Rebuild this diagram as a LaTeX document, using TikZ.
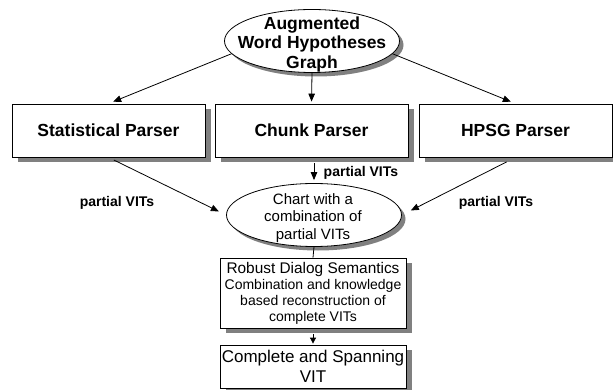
\documentclass[tikz,border=0pt]{standalone}
\usepackage{fontspec}
\setmainfont{Liberation Sans}
\usetikzlibrary{shapes.geometric,arrows.meta}
\definecolor{dropgray}{RGB}{128,128,128}

\begin{document}
\begin{tikzpicture}[x=1pt,y=-1pt,
  line width=0.8pt,
  box/.style={rectangle,draw=black,fill=white,inner sep=0pt,align=center},
  oval/.style={ellipse,draw=black,fill=white,inner sep=0pt,minimum width=175pt,minimum height=63pt},
  parserbox/.style={box,minimum width=193pt,minimum height=53pt,font=\fontsize{17.5}{19.5}\selectfont\bfseries},
  lowbox/.style={box,minimum width=186pt},
  vitlabel/.style={font=\fontsize{14}{16}\selectfont\bfseries},
  arr/.style={-{Triangle[length=8pt,width=6.5pt]}},
  smallarr/.style={-{Triangle[length=6pt,width=6pt]}},
  dropshade/.style={fill=dropgray,draw=none}]

\useasboundingbox (0,0) rectangle (613,390);

% gray drop shadows, drawn first so the shapes sit on top of them
\fill[dropshade] (18,109) rectangle (211,162);
\fill[dropshade] (221,109) rectangle (414,162);
\fill[dropshade] (425,109) rectangle (618,162);
\fill[dropshade] (226,263) rectangle (412,333);
\fill[dropshade] (226,350) rectangle (412,393);
\fill[dropshade] (316,45) ellipse [x radius=87.5, y radius=31.5];
\fill[dropshade] (318,219) ellipse [x radius=87.5, y radius=31.5];

% word hypotheses graph
\node[oval] (top) at (312,41) {};
\node[align=center,font=\fontsize{17.5}{19.5}\selectfont\bfseries] (topText) at (312,44)
  {Augmented\\Word Hypotheses\\Graph};

% the three parsers
\node[parserbox] (stat)  at (108.5,130.5) {Statistical Parser};
\node[parserbox] (chunk) at (311.5,130.5) {Chunk Parser};
\node[parserbox] (hpsg)  at (515.5,130.5) {HPSG Parser};

% chart of partial results
\node[oval] (chart) at (314,215) {};
\node[align=center,font=\fontsize{15}{17.5}\selectfont] (chartText) at (313,218)
  {Chart with a\\combination of\\partial VITs};

% semantics and final result
\node[lowbox,minimum height=70pt,font=\fontsize{14}{16}\selectfont] (robust) at (313,293)
  {{\fontsize{15.4}{16}\selectfont Robust Dialog Semantics}\\
   Combination and knowledge\\based reconstruction of\\complete VITs};
\node[lowbox,minimum height=43pt,font=\fontsize{17}{20}\selectfont] (complete) at (313,366.5)
  {Complete and Spanning\\VIT};

% connectors
\draw[arr,shorten >=5pt] (top.189) -- (stat.north);
\draw[arr,shorten >=5pt] (top.351) -- (hpsg.north);
\draw[arr,shorten >=2pt] (top.south) -- (chunk.north);
\draw[arr,shorten <=6pt,shorten >=8pt] (stat.south) -- (chart.west);
\draw[arr,shorten <=10pt,shorten >=10pt] (hpsg.south) -- (chart.east);
\draw[arr,shorten <=6pt,shorten >=3pt] (chunk.south -| chart.north) -- (chart.north);
\draw (chart.south) -- (robust.north);
\draw[smallarr,shorten <=6pt,shorten >=1pt] (robust.south) -- (complete.north);

% labels
\node[vitlabel] (lblLeft)  at (117,203) {partial VITs};
\node[vitlabel] (lblRight) at (496,203) {partial VITs};
\node[vitlabel,anchor=west] (lblMid) at (320,173) {partial VITs};
\end{tikzpicture}
\end{document}
